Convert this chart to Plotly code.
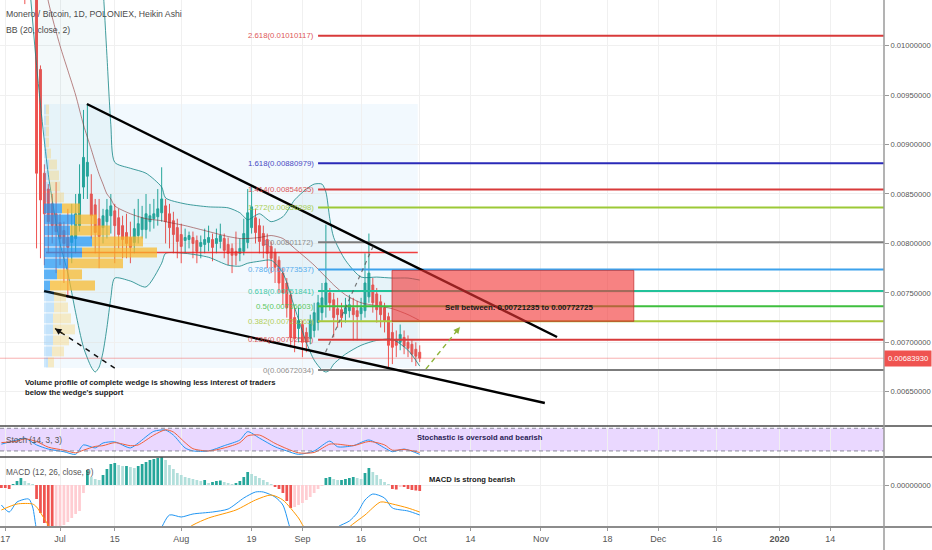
"""XMR/BTC 1D Heikin Ashi (Poloniex) in TradingView style: fib extension, falling wedge,
fixed-range volume profile, sell zone, Stoch and MACD panes. Writes out.html."""

import pandas as pd
import plotly.graph_objects as go

FONT = "'Liberation Sans', Arial, sans-serif"
GRID = "#f0f0f0"
TXT = "#555555"

# ---------------------------------------------------------------- price pane data
CANDLE_START, CANDLE_END = "2019-06-22", "2019-10-01"
HA_OPEN = [
    0.01120, 0.01105, 0.01095, 0.01082, 0.00976, 0.00871, 0.00855, 0.00840, 0.00830, 0.00821,
    0.00813, 0.00806, 0.00801, 0.00805, 0.00818, 0.00857, 0.00868, 0.00850, 0.00839, 0.00825,
    0.00816, 0.00822, 0.00828, 0.00833, 0.00826, 0.00818, 0.00811, 0.00806, 0.00801, 0.00808,
    0.00814, 0.00814, 0.00822, 0.00825, 0.00827, 0.00831, 0.00838, 0.00830, 0.00823, 0.00816,
    0.00809, 0.00803, 0.00804, 0.00806, 0.00803, 0.00797, 0.00799, 0.00801, 0.00804, 0.00800,
    0.00802, 0.00805, 0.00799, 0.00795, 0.00792, 0.00790, 0.00792, 0.00801, 0.00816, 0.00826,
    0.00818, 0.00810, 0.00804, 0.00797, 0.00791, 0.00783, 0.00770, 0.00760, 0.00748, 0.00725,
    0.00714, 0.00718, 0.00710, 0.00704, 0.00712, 0.00720, 0.00730, 0.00738, 0.00750, 0.00743,
    0.00734, 0.00733, 0.00729, 0.00732, 0.00735, 0.00732, 0.00729, 0.00732, 0.00746, 0.00758,
    0.00749, 0.00741, 0.00735, 0.00726, 0.00710, 0.00703, 0.00700, 0.00705, 0.00700, 0.00698,
    0.00693, 0.00690,
]
HA_HIGH = [
    0.01130, 0.01115, 0.01100, 0.01090, 0.00980, 0.00880, 0.00860, 0.00850, 0.00862, 0.00830,
    0.00822, 0.00835, 0.00840, 0.00850, 0.00880, 0.00935, 0.00941, 0.00870, 0.00845, 0.00845,
    0.00835, 0.00845, 0.00850, 0.00840, 0.00835, 0.00828, 0.00830, 0.00822, 0.00835, 0.00845,
    0.00838, 0.00850, 0.00840, 0.00845, 0.00855, 0.00877, 0.00845, 0.00840, 0.00832, 0.00825,
    0.00820, 0.00815, 0.00812, 0.00812, 0.00808, 0.00808, 0.00815, 0.00818, 0.00810, 0.00815,
    0.00820, 0.00810, 0.00806, 0.00800, 0.00812, 0.00805, 0.00825, 0.00855, 0.00857, 0.00835,
    0.00825, 0.00818, 0.00810, 0.00802, 0.00795, 0.00787, 0.00775, 0.00765, 0.00752, 0.00735,
    0.00735, 0.00722, 0.00715, 0.00728, 0.00740, 0.00748, 0.00760, 0.00819, 0.00755, 0.00750,
    0.00745, 0.00740, 0.00745, 0.00748, 0.00745, 0.00742, 0.00745, 0.00790, 0.00810, 0.00765,
    0.00755, 0.00748, 0.00740, 0.00730, 0.00720, 0.00712, 0.00718, 0.00712, 0.00707, 0.00703,
    0.00700, 0.00697,
]
HA_LOW = [
    0.01042, 0.01060, 0.01055, 0.00795, 0.00785, 0.00778, 0.00790, 0.00800, 0.00770, 0.00778,
    0.00760, 0.00745, 0.00780, 0.00790, 0.00812, 0.00845, 0.00845, 0.00805, 0.00790, 0.00775,
    0.00800, 0.00805, 0.00810, 0.00780, 0.00795, 0.00785, 0.00785, 0.00780, 0.00790, 0.00800,
    0.00805, 0.00805, 0.00812, 0.00815, 0.00818, 0.00822, 0.00800, 0.00795, 0.00790, 0.00785,
    0.00780, 0.00790, 0.00795, 0.00785, 0.00780, 0.00785, 0.00790, 0.00792, 0.00782, 0.00790,
    0.00795, 0.00785, 0.00778, 0.00770, 0.00778, 0.00782, 0.00788, 0.00795, 0.00810, 0.00800,
    0.00790, 0.00785, 0.00775, 0.00770, 0.00760, 0.00750, 0.00738, 0.00725, 0.00695, 0.00690,
    0.00700, 0.00685, 0.00690, 0.00698, 0.00705, 0.00712, 0.00722, 0.00725, 0.00732, 0.00705,
    0.00715, 0.00715, 0.00720, 0.00725, 0.00702, 0.00702, 0.00722, 0.00725, 0.00740, 0.00730,
    0.00720, 0.00715, 0.00710, 0.00675, 0.00678, 0.00685, 0.00692, 0.00688, 0.00685, 0.00680,
    0.00676, 0.00680,
]
HA_CLOSE = [
    0.01090, 0.01085, 0.01070, 0.00871, 0.00844, 0.00830, 0.00822, 0.00818, 0.00812, 0.00805,
    0.00800, 0.00796, 0.00808, 0.00830, 0.00850, 0.00887, 0.00882, 0.00828, 0.00811, 0.00807,
    0.00828, 0.00834, 0.00838, 0.00818, 0.00809, 0.00804, 0.00800, 0.00796, 0.00815, 0.00820,
    0.00826, 0.00830, 0.00828, 0.00830, 0.00835, 0.00845, 0.00822, 0.00816, 0.00809, 0.00802,
    0.00797, 0.00806, 0.00808, 0.00800, 0.00792, 0.00801, 0.00804, 0.00806, 0.00796, 0.00805,
    0.00808, 0.00793, 0.00790, 0.00788, 0.00788, 0.00795, 0.00810, 0.00831, 0.00837, 0.00811,
    0.00802, 0.00798, 0.00790, 0.00785, 0.00776, 0.00760, 0.00750, 0.00735, 0.00705, 0.00704,
    0.00722, 0.00700, 0.00700, 0.00722, 0.00730, 0.00740, 0.00745, 0.00760, 0.00740, 0.00725,
    0.00728, 0.00725, 0.00735, 0.00738, 0.00728, 0.00726, 0.00735, 0.00760, 0.00770, 0.00740,
    0.00733, 0.00728, 0.00722, 0.00697, 0.00695, 0.00697, 0.00708, 0.00696, 0.00694, 0.00688,
    0.00686, 0.0068393,
]
LAST_PRICE = 0.0068393

# Bollinger bands (20, close, 2)
BB_DATES = [
    "2019-06-22", "2019-06-25", "2019-06-28", "2019-07-01", "2019-07-03", "2019-07-05",
    "2019-07-07", "2019-07-09", "2019-07-10", "2019-07-11", "2019-07-12", "2019-07-13",
    "2019-07-14", "2019-07-15", "2019-07-19", "2019-07-23", "2019-07-27", "2019-07-28",
    "2019-08-02", "2019-08-08", "2019-08-13", "2019-08-16", "2019-08-18", "2019-08-21",
    "2019-08-24", "2019-08-27", "2019-08-30", "2019-09-02", "2019-09-04", "2019-09-06",
    "2019-09-07", "2019-09-08", "2019-09-09", "2019-09-12", "2019-09-16", "2019-09-20",
    "2019-09-24", "2019-09-28", "2019-10-01",
]
BB_UPPER = [
    0.01290, 0.01300, 0.01300, 0.01285, 0.01270, 0.01250, 0.01225, 0.01190, 0.01165, 0.01120,
    0.01060, 0.00990, 0.00920, 0.00882, 0.00876, 0.00871, 0.00857, 0.00846, 0.00840, 0.00837,
    0.00836, 0.00831, 0.00824, 0.00830, 0.00822, 0.00827, 0.00844, 0.00855, 0.00860, 0.00860,
    0.00852, 0.00825, 0.00806, 0.00783, 0.00766, 0.00766, 0.00765, 0.00765, 0.00763,
]
BB_BASIS = [
    0.01150, 0.01115, 0.01045, 0.01000, 0.00975, 0.00950, 0.00920, 0.00895, 0.00882, 0.00870,
    0.00860, 0.00850, 0.00845, 0.00838, 0.00830, 0.00825, 0.00823, 0.00822, 0.00818, 0.00812,
    0.00807, 0.00805, 0.00805, 0.00806, 0.00808, 0.00805, 0.00795, 0.00785, 0.00778, 0.00770,
    0.00766, 0.00762, 0.00758, 0.00748, 0.00740, 0.00737, 0.00734, 0.00728, 0.00722,
]
BB_LOWER = [
    0.01120, 0.00980, 0.00870, 0.00800, 0.00770, 0.00730, 0.00695, 0.00675, 0.00670, 0.00675,
    0.00690, 0.00715, 0.00745, 0.00765, 0.00762, 0.00756, 0.00780, 0.00790, 0.00790, 0.00786,
    0.00778, 0.00777, 0.00780, 0.00782, 0.00783, 0.00770, 0.00735, 0.00700, 0.00682, 0.00672,
    0.00670, 0.00672, 0.00678, 0.00688, 0.00697, 0.00702, 0.00703, 0.00692, 0.00676,
]

# Fib extension
FIB_LEVELS = ["2.618", "1.618", "1.414", "1.272", "1", "0.786", "0.618", "0.5", "0.382", "0.236", "0"]
FIB_PRICES = [0.01010117, 0.00880979, 0.00854635, 0.00836298, 0.00801172, 0.00773537,
              0.00751841, 0.00736603, 0.00721365, 0.00702511, 0.00672034]
FIB_COLORS = ["#d83a3a", "#2a2ab8", "#d83a3a", "#9cc936", "#7c7c7c", "#3ca2ec",
              "#22c29a", "#3fbf3f", "#a8c83a", "#d83a3a", "#7c7c7c"]
FIB_START = "2019-09-05"
FIB_LABEL_AT = "2019-09-04 10:00"

# Fixed range volume profile (rows top -> bottom)
VP_START, VP_END = "2019-06-27 10:00", "2019-09-30 12:00"
VP_TOP, VP_BOTTOM = 0.00941, 0.00674
VP_PRICES = [0.009354, 0.009243, 0.009132, 0.009021, 0.008909, 0.008798, 0.008687, 0.008576,
             0.008465, 0.008354, 0.008242, 0.008131, 0.008020, 0.007909, 0.007798, 0.007687,
             0.007575, 0.007464, 0.007353, 0.007242, 0.007131, 0.007020, 0.006908, 0.006797]
VP_UP = [2, 2, 2, 2, 3, 5, 5, 6, 6, 18, 31, 26, 48, 38, 24, 13, 6, 10, 10, 9, 9, 9, 8, 4]
VP_DOWN = [3, 3, 3, 3, 4, 8, 10, 10, 14, 18, 22, 40, 51, 75, 55, 25, 45, 12, 14, 18, 22, 16, 12, 6]
VALUE_AREA = (9, 16)

# Drawings
WEDGE_TOP_X = ["2019-07-07 21:00", "2019-11-05 03:00"]
WEDGE_TOP_Y = [0.00941, 0.007054]
WEDGE_BOT_X = ["2019-06-26 22:00", "2019-11-02 00:00"]
WEDGE_BOT_Y = [0.007519, 0.006387]
SELL_LOW, SELL_HIGH = 0.00721235, 0.00772725
SELL_START, SELL_END = "2019-09-23 22:00", "2019-11-24 18:00"
SELL_TEXT_AT = ("2019-10-26 10:00", 0.00735)
VP_ARROW_X = ["2019-07-15 00:00", "2019-06-29 17:00"]
VP_ARROW_Y = [0.00674, 0.00714]
UP_ARROW_X = ["2019-10-02 14:00", "2019-10-11 07:00"]
UP_ARROW_Y = [0.00673, 0.007155]
ZIGZAG_X = ["2019-09-06 22:00", "2019-09-19 10:00"]
ZIGZAG_Y = [0.00690, 0.00800]

# ---------------------------------------------------------------- Stoch (14, 3, 3)
STOCH_DATES = [
    "2019-06-16", "2019-06-20", "2019-06-22", "2019-06-25", "2019-06-28", "2019-07-02",
    "2019-07-05", "2019-07-07", "2019-07-10", "2019-07-12", "2019-07-15", "2019-07-19",
    "2019-07-21", "2019-07-25", "2019-07-28", "2019-07-30", "2019-08-02", "2019-08-04",
    "2019-08-08", "2019-08-12", "2019-08-16", "2019-08-18", "2019-08-21", "2019-08-25",
    "2019-08-28", "2019-08-31", "2019-09-04", "2019-09-08", "2019-09-10", "2019-09-14",
    "2019-09-18", "2019-09-22", "2019-09-24", "2019-09-27", "2019-10-01",
]
STOCH_K = [38, 49, 54, 36, 25, 18, 11, 36, 28, 41, 44, 28, 41, 72, 75, 62, 28, 20, 20, 34,
           49, 71, 54, 31, 20, 11, 20, 46, 31, 34, 49, 28, 18, 25, 11]
STOCH_D = [42, 46, 52, 45, 30, 22, 15, 22, 32, 34, 42, 34, 36, 62, 76, 70, 42, 26, 20, 28,
           42, 60, 62, 40, 26, 15, 16, 38, 38, 34, 45, 36, 22, 24, 16]

# ---------------------------------------------------------------- MACD (12, 26, close, 9), units 1e-6
HIST_START, HIST_END = "2019-06-16", "2019-10-01"
MACD_HIST = [
    -3, -3, -4, 1, 4, 7, 4, 2, 1,
    -14, -28, -38, -46, -50, -45, -42, -40, -37, -33, -29, -26, -8,
    15, 8, 6, 5, 10, 16, 21, 22, 20, 19, 19, 18, 17, 19, 21, 23, 25, 26, 27, 29,
    25, 20, 16, 12, 10, 8, 7, 6, 5, 4, 5, 2, 3, 4, 4.5, 3, 2, 1, 2, 4,
    8, 13, 11, 9, 7, 5, 3, 1, -2, -4, -8, -16, -23, -22, -20, -18, -15, -12, -8, -4,
    -1, 7, 8, 6, 5, 5, 6, 7, 8, 7, 6, 12, 17, 13, 10, 6, 3, 1, -4, -4.5, -2, -2, -4, -5, -5.5, -6,
]
MACD_DATES = [
    "2019-06-16", "2019-06-18", "2019-06-20", "2019-06-23", "2019-06-24", "2019-06-25",
    "2019-06-27", "2019-07-01", "2019-07-11", "2019-07-21", "2019-07-26", "2019-07-29",
    "2019-08-01", "2019-08-04", "2019-08-09", "2019-08-13", "2019-08-17", "2019-08-20",
    "2019-08-22", "2019-08-25", "2019-08-27", "2019-08-29", "2019-08-31", "2019-09-05",
    "2019-09-10", "2019-09-13", "2019-09-15", "2019-09-17", "2019-09-19", "2019-09-22",
    "2019-09-24", "2019-09-28", "2019-10-01",
]
MACD_LINE = [-20, -27, -17, -14, -22, -45, -75, -110, -110, -80, -50, -30, -32, -29, -27, -24,
             -13, -7, -7, -12, -20, -45, -60, -60, -42, -36, -28, -15, -9, -13, -23, -26, -30]
SIGNAL_DATES = [
    "2019-06-16", "2019-06-20", "2019-06-24", "2019-06-25", "2019-06-28", "2019-07-05",
    "2019-07-15", "2019-07-25", "2019-08-01", "2019-08-04", "2019-08-08", "2019-08-15",
    "2019-08-20", "2019-08-24", "2019-08-27", "2019-08-31", "2019-09-02", "2019-09-10",
    "2019-09-13", "2019-09-17", "2019-09-21", "2019-09-24", "2019-09-28", "2019-10-01",
]
SIGNAL_LINE = [-25, -19, -19, -22, -40, -80, -95, -70, -48, -40, -33, -25, -15, -10, -15, -33,
               -45, -55, -42, -30, -17, -19, -23, -27]

# ---------------------------------------------------------------- time axis
X_RANGE = ["2019-06-15 15:40", "2020-01-27 17:45"]
X_TICKS = ["2019-06-17", "2019-07-01", "2019-07-15", "2019-08-01", "2019-08-19", "2019-09-01",
           "2019-09-16", "2019-10-01", "2019-10-14", "2019-11-01", "2019-11-18", "2019-12-01",
           "2019-12-16", "2020-01-01", "2020-01-14"]
X_TICK_TEXT = ["17", "Jul", "15", "Aug", "19", "Sep", "16", "Oct", "14", "Nov", "18", "Dec",
               "16", "<b>2020</b>", "14"]

PLOT_W, PLOT_H = 884, 527   # plot area in px (rest is the price scale / time scale)
SCALE_FONT = 7.6


def _py(px: float) -> float:
    """pixel row inside the plot area -> paper y"""
    return (PLOT_H - px) / PLOT_H


def _line(x, y, color, width=1.0, dash=None, xa="x2", ya="y", shape="linear"):
    return go.Scatter(x=x, y=y, mode="lines", xaxis=xa, yaxis=ya, hoverinfo="skip",
                      showlegend=False,
                      line=dict(color=color, width=width, dash=dash, shape=shape, smoothing=0.7))


def _price_pane(fig: go.Figure) -> None:
    # Bollinger bands
    fig.add_trace(_line(BB_DATES, BB_LOWER, "rgba(19,132,132,0.8)", shape="spline"))
    fig.add_trace(go.Scatter(x=BB_DATES, y=BB_UPPER, mode="lines", xaxis="x2", yaxis="y",
                             fill="tonexty", fillcolor="rgba(25,135,150,0.05)",
                             line=dict(color="rgba(19,132,132,0.8)", width=1, shape="spline",
                                       smoothing=0.7),
                             hoverinfo="skip", showlegend=False))
    fig.add_trace(_line(BB_DATES, BB_BASIS, "rgba(135,35,35,0.55)", shape="spline"))

    dates = pd.date_range(CANDLE_START, CANDLE_END, freq="D")
    fig.add_trace(go.Candlestick(
        x=dates, open=HA_OPEN, high=HA_HIGH, low=HA_LOW, close=HA_CLOSE,
        xaxis="x2", yaxis="y", whiskerwidth=0, showlegend=False, hoverinfo="skip",
        increasing=dict(line=dict(color="#26a69a", width=1), fillcolor="#26a69a"),
        decreasing=dict(line=dict(color="#ef5350", width=1), fillcolor="#ef5350"),
    ))

    # last price line across the whole pane
    fig.add_trace(_line(X_RANGE, [LAST_PRICE, LAST_PRICE], "rgba(239,83,80,0.45)", 1))

    # point of control of the volume profile
    totals = [u + d for u, d in zip(VP_UP, VP_DOWN)]
    poc = VP_PRICES[totals.index(max(totals))]
    fig.add_trace(_line([VP_START, VP_END], [poc, poc], "rgba(240,30,30,0.85)", 1.5))

    for price, color in zip(FIB_PRICES, FIB_COLORS):
        fig.add_trace(_line([FIB_START, X_RANGE[1]], [price, price], color, 2))

    fig.add_trace(_line(WEDGE_TOP_X, WEDGE_TOP_Y, "#000000", 2.4))
    fig.add_trace(_line(WEDGE_BOT_X, WEDGE_BOT_Y, "#000000", 2.4))
    fig.add_trace(_line(ZIGZAG_X, ZIGZAG_Y, "rgba(90,90,90,0.8)", 1.2, dash="4px,4px"))
    fig.add_trace(_line(VP_ARROW_X, VP_ARROW_Y, "#111111", 1.5, dash="5px,5px"))
    fig.add_trace(_line(UP_ARROW_X, UP_ARROW_Y, "#8fb43a", 1.4, dash="5px,4px"))

    # volume profile rows on an overlay axis (units = bar length)
    lo, hi = VALUE_AREA
    in_va = [lo <= i <= hi for i in range(len(VP_PRICES))]
    up_c = ["rgba(33,150,243,0.72)" if v else "rgba(33,150,243,0.22)" for v in in_va]
    dn_c = ["rgba(250,185,40,0.72)" if v else "rgba(250,200,70,0.3)" for v in in_va]
    fig.add_trace(go.Bar(y=VP_PRICES, x=VP_UP, base=0, orientation="h", width=0.0001,
                         marker=dict(color=up_c, line=dict(width=0)), xaxis="x4", yaxis="y",
                         hoverinfo="skip", showlegend=False))
    fig.add_trace(go.Bar(y=VP_PRICES, x=VP_DOWN, base=VP_UP, orientation="h", width=0.0001,
                         marker=dict(color=dn_c, line=dict(width=0)), xaxis="x4", yaxis="y",
                         hoverinfo="skip", showlegend=False))


def _indicator_panes(fig: go.Figure) -> None:
    fig.add_trace(_line(STOCH_DATES, STOCH_K, "#2196f3", 1, xa="x3", ya="y2", shape="spline"))
    fig.add_trace(_line(STOCH_DATES, STOCH_D, "#f0603a", 1, xa="x3", ya="y2", shape="spline"))

    colors = []
    prev = 0
    for v in MACD_HIST:
        if v >= 0:
            colors.append("#26a69a" if v >= prev else "#b2dfdb")
        else:
            colors.append("#ef5350" if v <= prev else "#ffcdd2")
        prev = v
    fig.add_trace(go.Bar(x=pd.date_range(HIST_START, HIST_END, freq="D"), y=MACD_HIST,
                         marker=dict(color=colors, line=dict(width=0)), xaxis="x", yaxis="y3",
                         hoverinfo="skip", showlegend=False))
    fig.add_trace(_line(MACD_DATES, MACD_LINE, "#2196f3", 1, xa="x", ya="y3", shape="spline"))
    fig.add_trace(_line(SIGNAL_DATES, SIGNAL_LINE, "#ff9800", 1, xa="x", ya="y3", shape="spline"))


def _annotations() -> list:
    ann = []

    def txt(text, x, y, size=10, color=TXT, xref="paper", yref="paper", anchor="left", **kw):
        ann.append(dict(text=text, x=x, y=y, xref=xref, yref=yref, xanchor=anchor,
                        yanchor="middle", showarrow=False,
                        font=dict(family=FONT, size=size, color=color), **kw))

    txt("Monero / Bitcoin, 1D, POLONIEX, Heikin Ashi", 4 / PLOT_W, _py(14), 8.7, "#4a4a4a")
    txt("BB (20, close, 2)", 4 / PLOT_W, _py(30), 8.7, "#4a4a4a")
    txt("Stoch (14, 3, 3)", 4 / PLOT_W, _py(440), 8.2, "#555555")
    txt("MACD (12, 26, close, 9)", 4 / PLOT_W, _py(472), 8.2, "#555555")

    for lvl, price, color in zip(FIB_LEVELS, FIB_PRICES, FIB_COLORS):
        txt(f"{lvl}({price:.8f})", FIB_LABEL_AT, price, 7.8, color, xref="x2", yref="y",
            anchor="right", opacity=0.85)

    txt("<b>Volume profile of complete wedge is showing less interest of traders<br>"
        "below the wedge's support</b>", 23 / PLOT_W, _py(387), 7.7, "#1a1a1a", align="left")
    txt("<b>Stochastic is oversold and bearish</b>", 415 / PLOT_W, _py(438), 7.6, "#2a1d55")
    txt("<b>MACD is strong bearish</b>", 427 / PLOT_W, _py(479), 7.6, "#1a1a1a")
    txt("<b>Sell between: 0.00721235 to 0.00772725</b>", SELL_TEXT_AT[0], SELL_TEXT_AT[1], 7.9,
        "#1a1a1a", xref="x2", yref="y", anchor="center")

    # arrow heads of the dashed pointers
    for xs, ys, color in ((VP_ARROW_X, VP_ARROW_Y, "#111111"), (UP_ARROW_X, UP_ARROW_Y, "#8fb43a")):
        t0, t1 = pd.Timestamp(xs[0]), pd.Timestamp(xs[1])
        ann.append(dict(x=t1, y=ys[1], xref="x2", yref="y", axref="x2", ayref="y",
                        ax=t1 + (t0 - t1) * 0.15, ay=ys[1] + (ys[0] - ys[1]) * 0.15,
                        showarrow=True, arrowhead=2, arrowsize=1, arrowwidth=1.3,
                        arrowcolor=color, text=""))

    # current price tag on the price scale
    ann.append(dict(text=f"{LAST_PRICE:.8f}", x=1, y=LAST_PRICE, xref="paper", yref="y",
                    xanchor="left", yanchor="middle", showarrow=False, bgcolor="#ef5350",
                    borderpad=3, font=dict(family=FONT, size=SCALE_FONT, color="#ffffff")))
    return ann


def _shapes() -> list:
    right = 932 / PLOT_W
    s = [
        # volume profile range box
        dict(type="rect", xref="x2", yref="y", x0=VP_START, x1=VP_END, y0=VP_BOTTOM, y1=VP_TOP,
             fillcolor="rgba(33,150,243,0.06)", line=dict(width=0), layer="below"),
        # sell zone
        dict(type="rect", xref="x2", yref="y", x0=SELL_START, x1=SELL_END, y0=SELL_LOW,
             y1=SELL_HIGH, fillcolor="rgba(242,54,54,0.62)",
             line=dict(color="rgba(190,40,40,0.7)", width=1), layer="above"),
        # stoch band
        dict(type="rect", xref="paper", yref="y2", x0=0, x1=1, y0=20, y1=80,
             fillcolor="rgba(150,60,255,0.2)", line=dict(width=0), layer="below"),
        dict(type="line", xref="paper", yref="y2", x0=0, x1=1, y0=80, y1=80,
             line=dict(color="#8a8a9a", width=1, dash="4px,3px")),
        dict(type="line", xref="paper", yref="y2", x0=0, x1=1, y0=20, y1=20,
             line=dict(color="#8a8a9a", width=1, dash="4px,3px")),
        # pane separators and scales
        dict(type="line", xref="paper", yref="paper", x0=0, x1=right, y0=_py(426), y1=_py(426),
             line=dict(color="#4a4a4a", width=1.5)),
        dict(type="line", xref="paper", yref="paper", x0=0, x1=right, y0=_py(457), y1=_py(457),
             line=dict(color="#4a4a4a", width=1.5)),
        dict(type="line", xref="paper", yref="paper", x0=0, x1=right, y0=0, y1=0,
             line=dict(color="#8c8c8c", width=2)),
        dict(type="line", xref="paper", yref="paper", x0=1, x1=1, y0=-0.05, y1=1,
             line=dict(color="#9a9a9a", width=1.5)),
    ]
    return s


def main() -> None:
    fig = go.Figure()
    _price_pane(fig)
    _indicator_panes(fig)

    xcommon = dict(type="date", tickvals=X_TICKS, showgrid=True, gridcolor=GRID,
                   zeroline=False, rangeslider=dict(visible=False), domain=[0, 1],
                   automargin=False)
    ycommon = dict(side="right", zeroline=False, showline=False, gridcolor=GRID,
                   automargin=False, tickfont=dict(family=FONT, size=SCALE_FONT, color=TXT))
    fig.update_layout(
        width=932, height=550,
        margin=dict(l=0, r=932 - PLOT_W, t=0, b=550 - PLOT_H, autoexpand=False),
        paper_bgcolor="#ffffff", plot_bgcolor="#ffffff",
        showlegend=False, hovermode=False, barmode="overlay", bargap=0.3,
        xaxis=dict(**xcommon, anchor="y3", range=X_RANGE, ticktext=X_TICK_TEXT,
                   ticks="outside", ticklen=3, tickcolor="#999999",
                   tickfont=dict(family=FONT, size=9, color=TXT)),
        xaxis2=dict(**xcommon, anchor="y", matches="x", showticklabels=False),
        xaxis3=dict(**xcommon, anchor="y2", matches="x", showticklabels=False),
        xaxis4=dict(overlaying="x2", anchor="y", range=[-44, PLOT_W - 44], visible=False,
                    domain=[0, 1], automargin=False),
        yaxis=dict(**ycommon, anchor="x2", domain=[_py(426), 1],
                   range=[0.0061541, 0.0104615], tickformat=".8f", dtick=0.0005, tick0=0,
                   ticks="outside", ticklen=4, tickcolor="#999999"),
        yaxis2=dict(**ycommon, anchor="x3", domain=[_py(457), _py(426)], range=[4, 86],
                    showticklabels=False, showgrid=False),
        yaxis3=dict(**ycommon, anchor="x", domain=[0, _py(457)], range=[-42, 28],
                    tickvals=[0], ticktext=["0.00000000"], ticks="outside", ticklen=4,
                    tickcolor="#999999"),
        annotations=_annotations(),
        shapes=_shapes(),
    )
    # the page body keeps its default 8px margin otherwise; pin the chart to the corner
    fig.write_html("out.html", config={"displayModeBar": False},
                   post_script="document.body.style.margin='0';")


if __name__ == "__main__":
    main()
